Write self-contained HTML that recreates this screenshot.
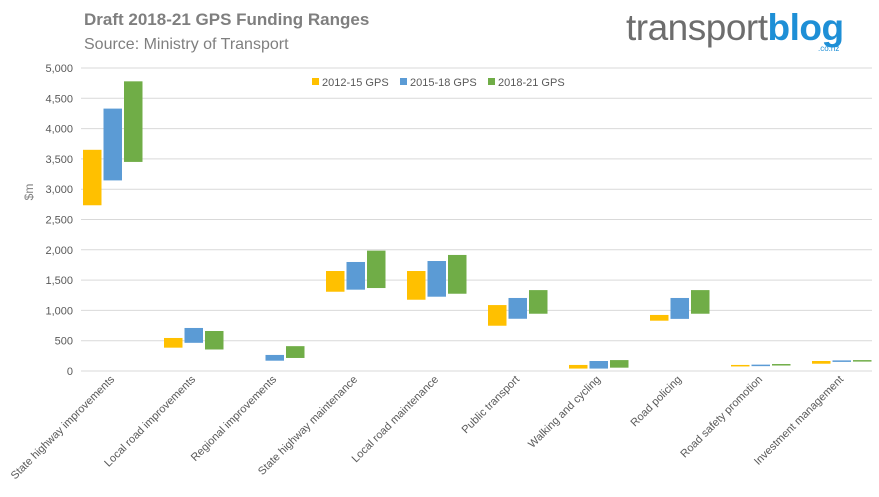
<!DOCTYPE html>
<html><head><meta charset="utf-8"><style>
body{margin:0;width:879px;height:492px;background:#fff;overflow:hidden;font-family:"Liberation Sans",sans-serif}
</style></head><body>
<svg width="879" height="492" xmlns="http://www.w3.org/2000/svg">
<text x="84" y="25" font-size="17" font-weight="bold" fill="#7f7f7f">Draft 2018-21 GPS Funding Ranges</text>
<text x="84" y="49" font-size="16" fill="#7f7f7f">Source: Ministry of Transport</text>
<g>
<text x="626" y="40" font-size="37" fill="#6d6d6d" letter-spacing="-0.5">transport<tspan fill="#1e8fd6" font-weight="bold">blog</tspan></text>
<text x="818" y="51" font-size="8" fill="#1e8fd6">.co.nz</text>
</g>
<g id="grid"></g>
<g id="bars"></g>
<g id="labels"></g>
<text transform="translate(33,192) rotate(-90)" text-anchor="middle" font-size="12" fill="#7f7f7f">$m</text>
<g font-size="11" fill="#595959">
<rect x="312" y="78" width="7" height="7" fill="#ffc000"/>
<text x="322" y="86">2012-15 GPS</text>
<rect x="400" y="78" width="7" height="7" fill="#5b9bd5"/>
<text x="410" y="86">2015-18 GPS</text>
<rect x="488" y="78" width="7" height="7" fill="#70ad47"/>
<text x="498" y="86">2018-21 GPS</text>
</g>
</svg>
<script>
const categories=["State highway improvements","Local road improvements","Regional improvements","State highway maintenance","Local road maintenance","Public transport","Walking and cycling","Road policing","Road safety promotion","Investment management"];
const seriesNames=["2012-15 GPS","2015-18 GPS","2018-21 GPS"];
const low2012=[2735,385,0,1308,1176,747,40,830,88,120];
const high2012=[3650,545,0,1650,1650,1088,100,925,100,165];
const low2015=[3145,465,170,1342,1226,862,40,860,85,150];
const high2015=[4330,710,265,1799,1815,1205,165,1205,105,175];
const low2018=[3450,355,215,1369,1275,945,55,945,95,165];
const high2018=[4780,660,410,1986,1915,1335,180,1335,115,180];
const yTicks=[0,500,1000,1500,2000,2500,3000,3500,4000,4500,5000];
const colors=["#ffc000","#5b9bd5","#70ad47"];
const NS="http://www.w3.org/2000/svg";
function y(v){return 371-v*(303/5000);}
function xGroup(i){return 83+81*i;}
const grid=document.getElementById('grid');
yTicks.forEach(t=>{
 const l=document.createElementNS(NS,'line');
 l.setAttribute('x1',81);l.setAttribute('x2',872);l.setAttribute('y1',y(t));l.setAttribute('y2',y(t));
 l.setAttribute('stroke','#d9d9d9');l.setAttribute('stroke-width','1');
 
 
 grid.appendChild(l);
 const tx=document.createElementNS(NS,'text');
 tx.setAttribute('x',73);tx.setAttribute('y',y(t)+4);tx.setAttribute('text-anchor','end');
 tx.setAttribute('font-size','11');tx.setAttribute('fill','#595959');
 tx.textContent=t.toLocaleString('en-US');
 
 
 grid.appendChild(tx);
});
const lows=[low2012,low2015,low2018],highs=[high2012,high2015,high2018];
const bars=document.getElementById('bars');
categories.forEach((c,i)=>{
 for(let s=0;s<3;s++){
  const lo=lows[s][i],hi=highs[s][i];
  if(hi<=lo)continue;
  const r=document.createElementNS(NS,'rect');
  const h=Math.max(1.5,y(lo)-y(hi));
  r.setAttribute('x',xGroup(i)+s*20.5);r.setAttribute('width',18.5);
  r.setAttribute('y',y(hi));r.setAttribute('height',h);
  r.setAttribute('fill',colors[s]);
  
  
  bars.appendChild(r);
 }
 const tx=document.createElementNS(NS,'text');
 const cx=xGroup(i)+32,cy=380;
 tx.setAttribute('transform',`translate(${cx},${cy}) rotate(-45)`);
 tx.setAttribute('text-anchor','end');tx.setAttribute('font-size','11');tx.setAttribute('fill','#595959');
 tx.textContent=c;
 
 
 document.getElementById('labels').appendChild(tx);
});
</script>
</body></html>
